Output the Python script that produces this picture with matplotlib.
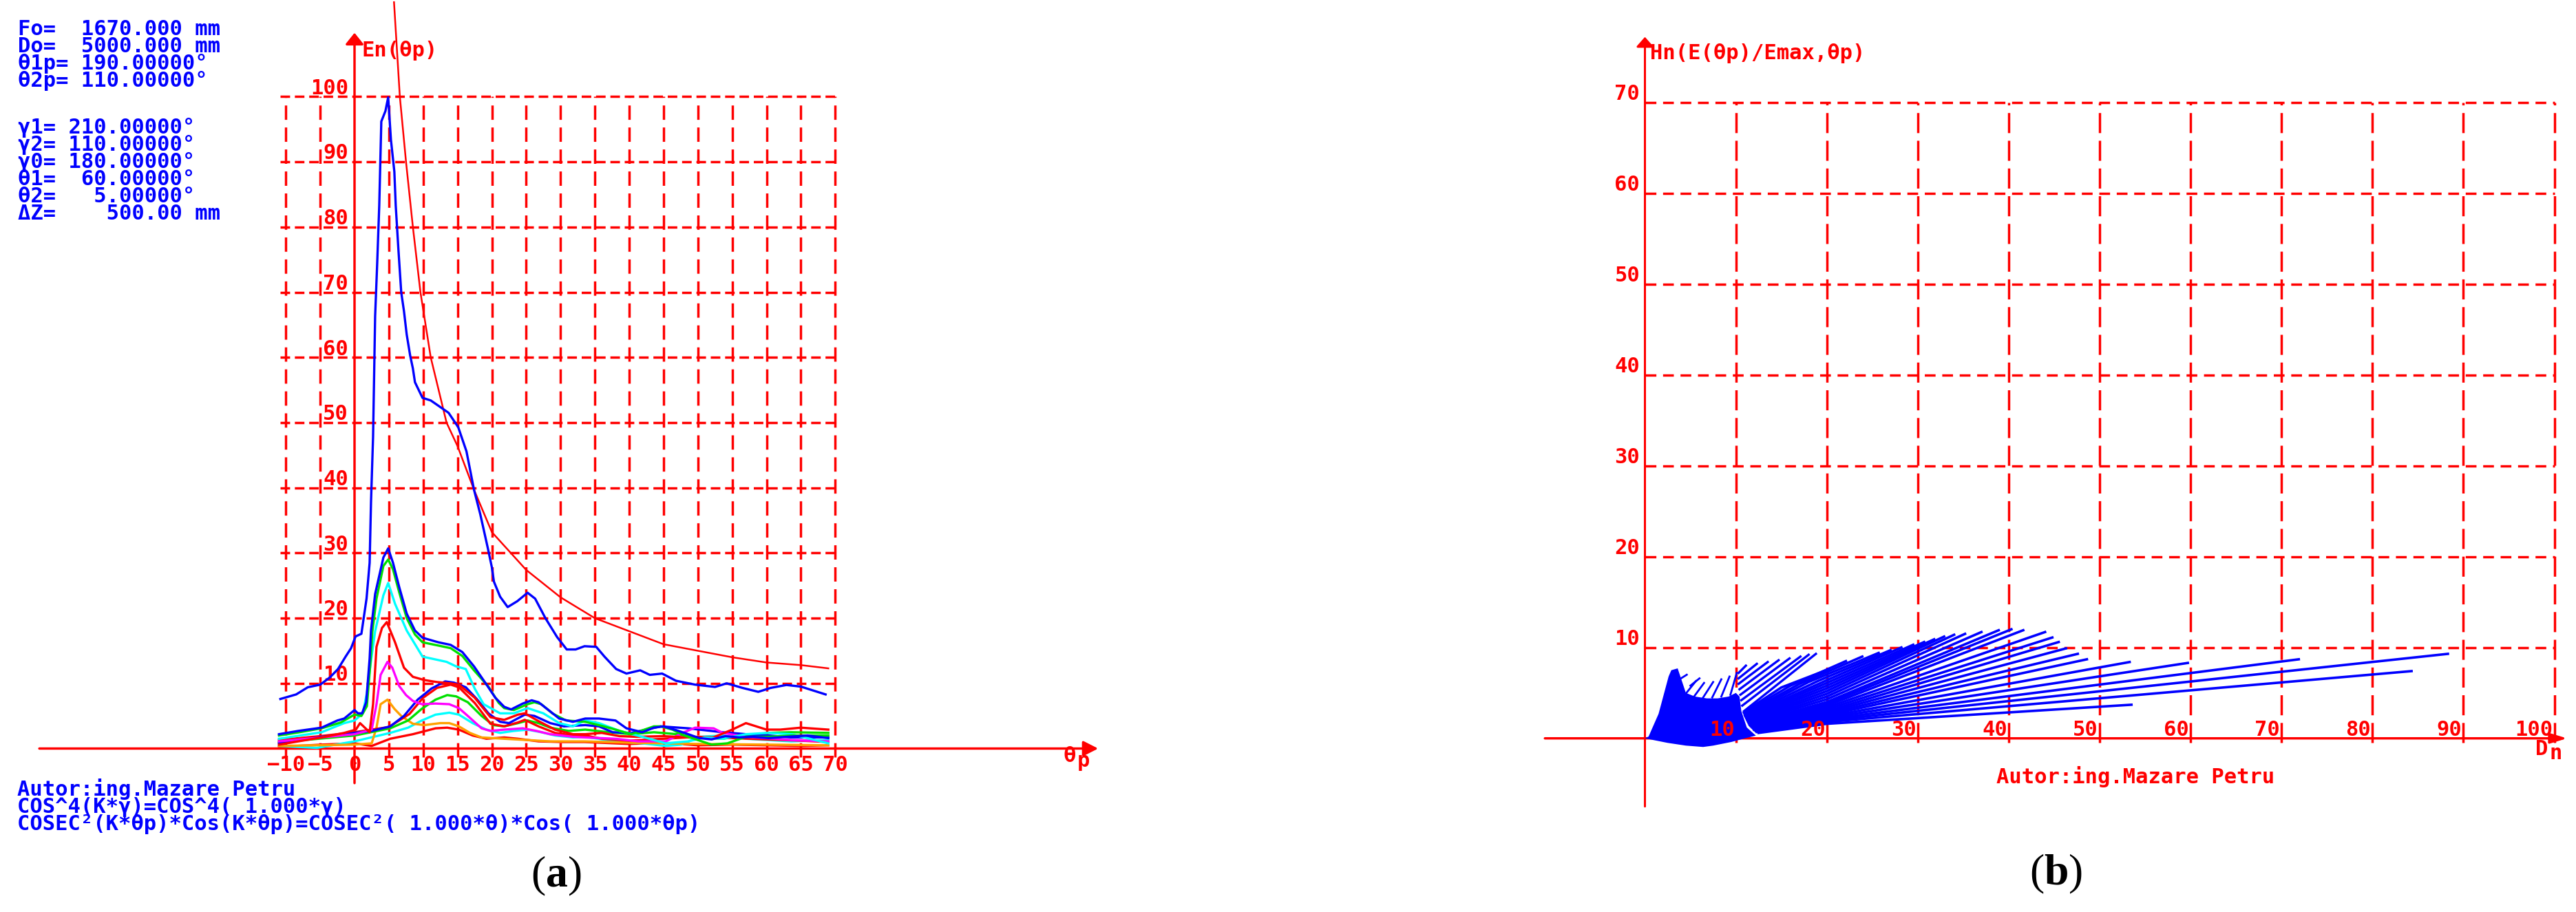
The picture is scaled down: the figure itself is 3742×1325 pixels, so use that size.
import matplotlib
matplotlib.use('Agg')
import matplotlib.pyplot as plt

W, H = 3742, 1325
RED = '#ff0000'
BLUE = '#0000ff'
GREEN = '#00e000'
CYAN = '#00ffff'
MAGENTA = '#ff00ff'
ORANGE = '#ffa000'
MONO = 'DejaVu Sans Mono'
FS = 22

plt.rcParams['mathtext.fontset'] = 'custom'
plt.rcParams['mathtext.rm'] = 'Liberation Serif'
plt.rcParams['mathtext.bf'] = 'Liberation Serif:bold'

# ---------------- panel (a) data ----------------
main_x = [-10.8, -8.5, -6.8, -5.0, -3.6, -2.4, -1.3, -0.5, 0.15, 1.0, 1.75, 2.2, 2.4, 2.7, 2.85,
          3.0, 3.3, 3.6, 3.9, 4.5, 4.9, 5.3, 5.8, 6.0, 6.4, 6.8, 7.2, 7.6, 8.1, 8.5, 8.8, 9.9,
          11.1, 12.2, 13.7, 15.1, 16.3, 17.4, 18.3, 19.4, 20.0, 20.3, 21.2, 22.3, 23.7, 25.2,
          26.3, 27.8, 29.5, 30.9, 32.2, 33.5, 35.2, 36.4, 38.1, 39.6, 41.6, 43.0, 44.8, 46.8,
          49.6, 52.5, 54.2, 56.5, 58.8, 60.6, 62.9, 65.0, 68.6]
main_y = [7.6, 8.3, 9.4, 9.8, 10.9, 12.2, 14.1, 15.4, 17.2, 17.6, 23.0, 28.5, 37.8, 47.8, 57.0,
          66.3, 74.4, 83.3, 96.2, 97.8, 99.9, 93.4, 88.5, 83.3, 76.4, 70.0, 67.1, 63.5, 60.3,
          58.3, 56.2, 53.8, 53.4, 52.6, 51.5, 49.3, 45.6, 39.7, 36.0, 30.8, 27.8, 25.6, 23.3,
          21.7, 22.6, 23.9, 23.0, 20.0, 17.1, 15.2, 15.2, 15.7, 15.6, 14.1, 12.2, 11.5, 12.0,
          11.3, 11.5, 10.4, 9.8, 9.45, 10.0, 9.3, 8.7, 9.3, 9.75, 9.5, 8.3]

ref_x = [5.75, 6.6, 7.5, 8.5, 9.6, 11.1, 13.4, 15.0, 17.4, 20.0, 25.0, 30.0, 35.0, 40.0, 45.0,
         50.0, 55.0, 60.0, 65.0, 69.0]
ref_y = [114.5, 100, 90, 80, 70, 60, 50, 46.4, 39.7, 33.2, 27.4, 23.2, 20.0, 18.0, 16.0,
         15.0, 14.0, 13.2, 12.8, 12.3]

g1_blue_x = [-11.0, -8.2, -4.8, -2.5, -1.5, 0.0, 0.5, 1.1, 1.7, 2.2, 2.4, 3.0, 4.2, 4.9, 5.6,
             6.5, 7.6, 8.8, 9.9, 12.2, 14.0, 15.7, 17.4, 19.1, 20.5, 21.8, 22.8, 24.5, 25.8,
             26.8, 28.5, 29.8, 31.8, 33.6, 35.6, 38.0, 39.6, 41.9, 43.6, 45.0, 46.9, 48.6,
             50.2, 52.0, 54.0, 56.0, 58.0, 60.3, 63.0, 66.0, 69.0]
g1_blue_y = [2.2, 2.7, 3.2, 4.3, 4.6, 5.9, 5.4, 5.4, 7.1, 13.8, 18.1, 23.7, 29.3, 30.7, 28.5,
             24.8, 20.7, 18.1, 17.0, 16.3, 15.9, 14.8, 12.6, 10.0, 7.8, 6.4, 6.0, 6.9, 7.4,
             7.1, 5.7, 4.6, 4.1, 4.6, 4.6, 4.3, 3.1, 2.5, 3.2, 3.4, 2.8, 2.2, 1.6, 1.4, 1.9,
             1.7, 1.8, 1.6, 1.8, 2.0, 1.6]

g1_green_x = [-11.0, -8.0, -4.8, -2.0, 0.0, 1.0, 1.8, 2.3, 2.6, 3.2, 4.2, 4.9, 5.6, 6.5, 7.6,
              8.8, 9.9, 12.2, 14.0, 15.7, 17.4, 19.5, 21.0, 21.8, 23.2, 25.2, 26.2, 27.2, 28.8,
              30.8, 33.6, 36.3, 38.0, 40.3, 43.6, 44.6, 46.3, 48.0, 52.0, 54.3, 57.0, 60.3,
              63.6, 69.0]
g1_green_y = [2.0, 2.5, 3.1, 4.0, 5.2, 5.0, 6.5, 13.0, 18.0, 23.0, 28.0, 29.0, 27.5, 24.0,
              20.0, 17.5, 16.3, 15.8, 15.4, 14.2, 12.0, 9.5, 7.0, 6.2, 5.9, 6.8, 7.1, 6.8, 5.4,
              4.3, 4.1, 3.4, 2.9, 2.2, 3.4, 3.4, 2.9, 2.0, 0.6, 0.8, 1.8, 1.8, 2.0, 2.0]

g1_cyan_x = [-11.0, -4.8, -1.5, 0.0, 1.2, 1.8, 2.3, 3.0, 4.2, 4.9, 5.9, 7.6, 9.9, 13.4, 14.8,
             16.2, 17.5, 18.8, 21.2, 23.2, 25.2, 27.5, 29.8, 31.8, 33.6, 35.6, 38.6, 41.9,
             45.3, 48.6, 51.0, 53.6, 57.0, 60.3, 63.6, 69.0]
g1_cyan_y = [1.5, 2.5, 3.9, 4.3, 5.4, 8.5, 12.7, 18.0, 23.5, 25.4, 22.2, 18.1, 14.1, 13.3, 12.6,
             12.2, 9.2, 6.8, 5.4, 5.4, 6.2, 5.4, 3.9, 3.4, 4.3, 3.9, 2.7, 1.8, 0.8, 1.1, 1.7,
             1.5, 2.2, 2.4, 2.2, 0.8]

g1_red_x = [-11.0, -4.8, -1.5, 0.2, 0.8, 1.5, 2.2, 2.7, 3.2, 4.0, 4.7, 5.9, 7.2, 8.5, 10.2,
            12.0, 14.0, 15.2, 17.5, 19.8, 21.8, 23.8, 24.8, 26.8, 29.2, 31.8, 33.6, 36.0, 38.6,
            41.0, 45.0, 48.6, 52.0, 55.0, 57.0, 60.0, 62.0, 65.0, 69.0]
g1_red_y = [0.6, 1.7, 2.4, 2.9, 3.9, 3.2, 2.5, 6.8, 15.6, 18.5, 19.4, 16.3, 12.4, 11.0, 10.5,
            10.2, 10.0, 9.8, 7.8, 4.8, 4.4, 5.2, 5.4, 4.2, 2.9, 2.2, 2.2, 2.4, 1.9, 1.8, 1.9,
            1.7, 1.6, 2.9, 3.9, 2.9, 2.9, 3.2, 2.9]

g1_magenta_x = [-11.0, -4.8, 0.0, 2.5, 3.2, 3.8, 4.8, 5.5, 6.5, 7.5, 8.5, 9.8, 11.8, 13.8,
                15.2, 16.5, 18.5, 19.8, 21.8, 24.5, 26.5, 28.5, 31.8, 33.6, 38.0, 41.3, 45.3,
                48.0, 49.6, 52.3, 53.6, 57.0, 63.6, 69.0]
g1_magenta_y = [1.1, 1.7, 2.2, 2.9, 6.8, 11.3, 13.3, 12.4, 9.6, 8.2, 7.3, 6.8, 6.9, 6.8, 6.2,
                5.0, 3.1, 2.7, 2.9, 3.1, 2.7, 2.2, 1.8, 1.7, 1.5, 1.1, 1.1, 2.5, 3.2, 3.1, 2.4,
                1.8, 1.3, 1.1]

g1_orange_x = [-11.0, 0.0, 2.5, 3.2, 3.8, 4.8, 5.8, 6.8, 8.5, 10.2, 12.5, 13.8, 15.2, 16.8,
               18.5, 21.8, 25.2, 28.5, 33.5, 40.0, 50.0, 60.0, 69.0]
g1_orange_y = [0.4, 0.6, 0.8, 3.2, 6.8, 7.5, 6.1, 5.0, 3.8, 3.6, 3.9, 3.9, 3.4, 2.4, 1.7, 1.5,
               1.3, 1.1, 1.1, 0.9, 0.7, 0.6, 0.5]

g2_blue_x = [-11.0, -4.8, 0.0, 2.5, 5.2, 7.2, 9.2, 11.2, 13.2, 14.5, 16.2, 17.8, 19.5, 21.2,
             22.5, 24.8, 26.2, 28.5, 30.5, 33.6, 35.6, 37.6, 40.3, 44.6, 48.6, 53.6, 57.0,
             60.3, 63.6, 69.0]
g2_blue_y = [0.8, 1.8, 2.4, 2.7, 3.4, 5.0, 7.5, 9.2, 10.3, 10.1, 9.4, 7.6, 5.4, 4.1, 3.9, 5.2,
             5.0, 3.9, 3.4, 3.6, 3.4, 2.5, 2.4, 3.4, 3.1, 2.5, 2.2, 2.0, 1.7, 1.7]

g2_red_x = [-11.0, -5.0, 0.0, 5.0, 8.0, 10.0, 12.0, 14.0, 15.2, 17.5, 19.8, 21.8, 23.8, 24.8,
            26.8, 29.2, 31.8, 33.6, 36.0, 40.0, 45.0, 50.0, 55.0, 60.0, 65.0, 69.0]
g2_red_y = [1.3, 1.9, 2.5, 3.3, 5.3, 7.8, 9.3, 9.8, 9.4, 7.0, 3.8, 3.4, 4.0, 4.4, 3.4, 2.4,
            2.0, 2.0, 1.5, 1.2, 1.5, 1.8, 1.6, 1.4, 1.2, 1.0]

g2_green_x = [-11.0, 0.0, 5.2, 7.8, 9.8, 11.8, 13.5, 14.8, 16.5, 18.5, 20.2, 21.8, 23.8, 25.2,
              26.8, 28.5, 31.2, 33.6, 37.0, 40.3, 43.6, 47.0, 50.2, 53.6, 57.0, 60.3, 63.6,
              69.0]
g2_green_y = [0.95, 2.0, 3.1, 4.3, 6.1, 7.5, 8.2, 8.0, 7.1, 5.0, 3.6, 3.4, 3.9, 4.3, 3.9, 3.2,
              2.7, 2.9, 2.5, 2.2, 2.5, 2.2, 1.7, 1.5, 2.0, 2.4, 2.5, 2.4]

g2_cyan_x = [-11.0, -5.5, 0.0, 5.2, 7.8, 9.8, 11.8, 13.8, 15.2, 17.2, 19.2, 21.2, 23.2, 25.2,
             27.2, 29.2, 31.8, 33.6, 38.0, 41.9, 45.3, 47.6, 50.2, 53.6, 57.0, 60.3, 63.6, 69.0]
g2_cyan_y = [0.4, 0.1, 1.1, 2.4, 3.2, 4.3, 5.2, 5.5, 5.2, 3.9, 2.9, 2.4, 2.7, 2.9, 2.5, 2.0,
             1.7, 1.8, 1.1, 0.8, 0.4, 0.6, 1.8, 2.0, 1.5, 1.3, 1.1, 1.3]

g2_low_x = [-11.0, -4.8, 0.0, 2.5, 5.2, 8.5, 11.8, 13.5, 15.2, 17.2, 19.2, 21.8, 23.8, 26.8,
            30.2, 33.5, 40.0, 45.0, 50.0, 55.0, 60.0, 65.0, 69.0]
g2_low_y = [0.25, 0.6, 0.8, 0.4, 1.5, 2.2, 3.1, 3.2, 2.9, 2.0, 1.5, 1.7, 1.5, 1.1, 1.0, 1.0,
            0.7, 0.9, 0.5, 0.6, 0.5, 0.4, 0.5]

a_xticks = [-10, -5, 0, 5, 10, 15, 20, 25, 30, 35, 40, 45, 50, 55, 60, 65, 70]
a_yticks = [10, 20, 30, 40, 50, 60, 70, 80, 90, 100]

params_top = ['Fo=  1670.000 mm', 'Do=  5000.000 mm', 'θ1p= 190.00000°', 'θ2p= 110.00000°']
params_mid = ['γ1= 210.00000°', 'γ2= 110.00000°', 'γ0= 180.00000°',
              'θ1=  60.00000°', 'θ2=   5.00000°', 'ΔZ=    500.00 mm']
notes_bottom = ['Autor:ing.Mazare Petru', 'COS^4(K*γ)=COS^4( 1.000*γ)',
                'COSEC²(K*θp)*Cos(K*θp)=COSEC²( 1.000*θ)*Cos( 1.000*θp)']

# ---------------- panel (b) data ----------------
blob_x = [0.0, 0.4, 1.5, 2.6, 2.9, 3.6, 3.9, 4.5, 5.5, 6.8, 8.0, 9.2, 10.0, 10.4, 10.6, 11.2,
          12.2, 11.0, 9.5, 7.5, 6.4, 4.5, 2.5, 1.0]
blob_y = [0.0, 0.2, 2.7, 6.8, 7.5, 7.7, 6.8, 5.0, 4.6, 4.4, 4.4, 4.6, 5.0, 4.6, 3.0, 1.2,
          0.3, 0.0, -0.4, -0.8, -0.95, -0.8, -0.5, -0.2]

streak_x0 = [4.4, 5.4, 6.4, 7.4, 8.4, 9.4, 3.8, 5.0]
streak_y0 = [4.8, 4.6, 4.5, 4.5, 4.6, 4.8, 6.5, 5.8]
streak_x1 = [5.6, 6.5, 7.5, 8.4, 9.3, 10.1, 4.6, 6.0]
streak_y1 = [6.3, 6.1, 6.2, 6.5, 6.8, 7.2, 7.0, 6.6]

# first short fan (ends between x=11 and x=19)
f1_x0 = [10.3, 10.3, 10.3, 10.4, 10.5, 10.6, 10.7, 10.9]
f1_y0 = [7.2, 6.6, 6.0, 5.4, 4.8, 4.2, 3.6, 3.0]
f1_x1 = [11.1, 12.3, 13.5, 14.7, 15.9, 17.1, 18.0, 18.8]
f1_y1 = [8.0, 8.2, 8.4, 8.6, 8.8, 9.0, 9.2, 9.3]

# long fan: start, bend and end of each trace
f2_x0 = [10.9, 10.9, 11.0, 11.0, 11.0, 11.1, 11.1, 11.2, 11.2, 11.3, 11.3, 11.4, 11.4, 11.5,
         11.5, 11.6, 11.6, 11.7, 11.7, 11.8, 11.8, 11.9, 12.0, 12.0, 12.1, 12.2, 12.3, 12.5]
f2_y0 = [2.9, 2.8, 2.7, 2.6, 2.5, 2.4, 2.3, 2.2, 2.1, 2.0, 1.9, 1.8, 1.7, 1.6, 1.5, 1.45,
         1.4, 1.35, 1.3, 1.25, 1.2, 1.1, 1.0, 0.95, 0.9, 0.8, 0.7, 0.6]
f2_xm = [15.0, 16.0, 17.0, 18.0, 19.0, 20.0, 20.0, 20.0, 20.0, 20.0, 20.0, 20.0, 20.0, 20.0,
         20.0, 20.0, 20.0, 20.0, 20.0, 20.0, 20.0, 20.0, 20.0, 20.0, 20.0, 20.0, 20.0, 20.0]
f2_ym = [5.6, 5.8, 6.0, 6.2, 6.3, 6.4, 6.1, 5.8, 5.5, 5.2, 4.9, 4.6, 4.3, 4.0, 3.8, 3.6, 3.4,
         3.2, 3.0, 2.85, 2.7, 2.55, 2.4, 2.25, 2.1, 1.95, 1.8, 1.6]
f2_x1 = [20.2, 22.1, 23.9, 25.7, 27.0, 28.2, 29.5, 30.7, 31.8, 32.9, 34.0, 35.2, 37.0, 38.9,
         40.3, 41.6, 44.0, 44.8, 45.5, 46.3, 47.6, 48.6, 53.3, 59.7, 71.9, 88.3, 84.3, 53.5]
f2_y1 = [7.6, 8.5, 9.0, 9.4, 9.7, 10.0, 10.3, 10.6, 10.9, 11.2, 11.4, 11.5, 11.7, 11.9, 12.0,
         11.9, 11.7, 11.1, 10.6, 9.9, 9.3, 8.7, 8.4, 8.3, 8.7, 9.3, 7.4, 3.7]

b_xticks = [10, 20, 30, 40, 50, 60, 70, 80, 90, 100]
b_yticks = [10, 20, 30, 40, 50, 60, 70]


def fx(px):
    return px / W


def fy(py):
    return 1 - py / H


fig = plt.figure(figsize=(W / 100, H / 100), dpi=100)
fig.patch.set_facecolor('white')

# left axes: data -> pixel  x: 515 + 9.975*x,  y: 1087.5 - 9.47*y
ax1 = fig.add_axes([0, 0, 1800 / W, 1])
ax1.set_xlim((0 - 515) / 9.975, (1800 - 515) / 9.975)
ax1.set_ylim((1087.5 - H) / 9.47, 1087.5 / 9.47)
ax1.axis('off')

# right axes: x: 2389.5 + 13.21*x,  y: 1072.7 - 13.2*y
ax2 = fig.add_axes([1800 / W, 0, (W - 1800) / W, 1])
ax2.set_xlim((1800 - 2389.5) / 13.21, (W - 2389.5) / 13.21)
ax2.set_ylim((1072.7 - H) / 13.2, 1072.7 / 13.2)
ax2.axis('off')

tkw = dict(family=MONO, weight='bold', fontsize=FS)

# ---------- panel (a) ----------
ax1.hlines(a_yticks, -10.8, 70, colors=RED, lw=2.5, linestyles=(0, (4, 2)), zorder=1)
ax1.vlines([v for v in a_xticks if v != 0], -1.3, 100, colors=RED, lw=2.5,
           linestyles=(0, (6, 3.2)), zorder=1)
ax1.annotate('', xy=(0, 109.8), xytext=(0, -5.3),
             arrowprops=dict(arrowstyle='-|>,head_length=0.5,head_width=0.4', mutation_scale=20,
                             color=RED, lw=2.5, shrinkA=0, shrinkB=0), zorder=2)
ax1.annotate('', xy=(108.3, 0), xytext=(-45.9, 0),
             arrowprops=dict(arrowstyle='-|>,head_length=0.65,head_width=0.33', mutation_scale=20,
                             color=RED, lw=2.5, shrinkA=0, shrinkB=0), zorder=2)

for v in a_yticks:
    ax1.text(-0.9, v + 0.4, str(v), ha='right', va='baseline', color=RED, **tkw)
for v in a_xticks:
    ax1.text(v, -3.4, str(v).replace('-', '−'), ha='center', va='baseline', color=RED, **tkw)

curves = [
    (g2_low_x, g2_low_y, RED),
    (g2_cyan_x, g2_cyan_y, CYAN),
    (g1_orange_x, g1_orange_y, ORANGE),
    (g2_green_x, g2_green_y, GREEN),
    (g2_red_x, g2_red_y, RED),
    (g2_blue_x, g2_blue_y, BLUE),
    (g1_magenta_x, g1_magenta_y, MAGENTA),
    (g1_red_x, g1_red_y, RED),
    (g1_cyan_x, g1_cyan_y, CYAN),
    (g1_green_x, g1_green_y, GREEN),
    (g1_blue_x, g1_blue_y, BLUE),
]
for cx, cy, col in curves:
    ax1.plot(cx, cy, color=col, lw=2.4, zorder=3, solid_joinstyle='round')
ax1.plot(ref_x, ref_y, color=RED, lw=1.8, zorder=4, clip_on=False)
ax1.plot(main_x, main_y, color=BLUE, lw=2.4, zorder=4)

fig.text(fx(525), fy(82), 'En(θp)', ha='left', va='baseline', color=RED, **tkw)
fig.text(fx(1545), fy(1107), 'θ', ha='left', va='baseline', color=RED, **tkw)
fig.text(fx(1565), fy(1114), 'p', ha='left', va='baseline', color=RED, **tkw)

for i, s in enumerate(params_top):
    fig.text(fx(26), fy(51 + 25 * i), s, ha='left', va='baseline', color=BLUE, **tkw)
for i, s in enumerate(params_mid):
    fig.text(fx(26), fy(194 + 25 * i), s, ha='left', va='baseline', color=BLUE, **tkw)
for i, s in enumerate(notes_bottom):
    fig.text(fx(25), fy(1156 + 25 * i), s, ha='left', va='baseline', color=BLUE, **tkw)

fig.text(fx(808), fy(1273), r'($\mathbf{a}$)', family='Liberation Serif', fontsize=46,
         ha='center', va='center', color='black')

# ---------- panel (b) ----------
ax2.hlines(b_yticks, 0, 100, colors=RED, lw=2.5, linestyles=(0, (4.5, 2.8)), zorder=1)
ax2.vlines(b_xticks, -0.5, 70, colors=RED, lw=2.5, linestyles=(0, (8.4, 3.2)), zorder=1)
ax2.annotate('', xy=(0, 77.2), xytext=(0, -7.5),
             arrowprops=dict(arrowstyle='-|>,head_length=0.43,head_width=0.38', mutation_scale=20,
                             color=RED, lw=2.2, shrinkA=0, shrinkB=0), zorder=2)
ax2.annotate('', xy=(101.4, 0), xytext=(-11.0, 0),
             arrowprops=dict(arrowstyle='-|>,head_length=0.72,head_width=0.22', mutation_scale=20,
                             color=RED, lw=2.5, shrinkA=0, shrinkB=0), zorder=2)
for v in b_yticks:
    ax2.text(-0.55, v + 0.25, str(v), ha='right', va='baseline', color=RED, **tkw)
for v in b_xticks:
    ax2.text(v - 0.15, 0.28, str(v), ha='right', va='baseline', color=RED, zorder=5, **tkw)

ax2.fill(blob_x, blob_y, color=BLUE, lw=0, zorder=3)
for x0, y0, x1, y1 in zip(streak_x0, streak_y0, streak_x1, streak_y1):
    ax2.plot([x0, x1], [y0, y1], color=BLUE, lw=2.0, zorder=3)
for x0, y0, x1, y1 in zip(f1_x0, f1_y0, f1_x1, f1_y1):
    ax2.plot([x0, x1], [y0, y1], color=BLUE, lw=2.4, zorder=3)
for x0, y0, xm, ym, x1, y1 in zip(f2_x0, f2_y0, f2_xm, f2_ym, f2_x1, f2_y1):
    ax2.plot([x0, xm, x1], [y0, ym, y1], color=BLUE, lw=2.6, zorder=3)

fig.text(fx(2397), fy(86), 'Hn(E(θp)/Emax,θp)', ha='left', va='baseline', color=RED, **tkw)
fig.text(fx(3683), fy(1097), 'D', ha='left', va='baseline', color=RED, **tkw)
fig.text(fx(3703), fy(1103), 'n', ha='left', va='baseline', color=RED, **tkw)
fig.text(fx(2900), fy(1138), 'Autor:ing.Mazare Petru', ha='left', va='baseline', color=RED, **tkw)

fig.text(fx(2987), fy(1270), r'($\mathbf{b}$)', family='Liberation Serif', fontsize=46,
         ha='center', va='center', color='black')

fig.savefig('out.png', dpi=100, facecolor='white')
